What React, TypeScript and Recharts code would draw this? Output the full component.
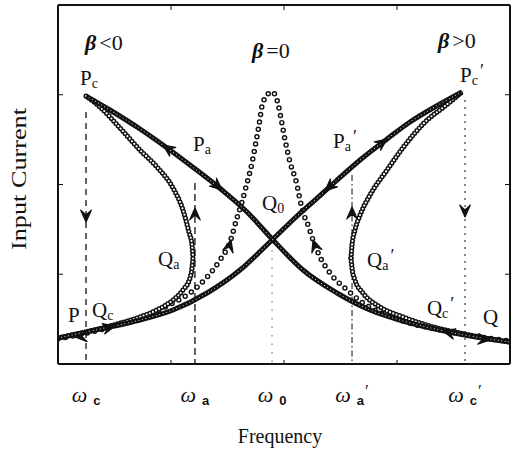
import { ComposedChart, Line, Scatter, XAxis, YAxis, ReferenceLine } from "recharts";

// axis ticks (frequency / current, arbitrary units)
const frequencyTicks = [1, 2, 3];
const currentTicks = [1, 2, 3];

// beta < 0 curve, three branches
const leftUpper = [
  { x: 0.248, y: 2.986 }, { x: 0.46, y: 2.83 }, { x: 0.726, y: 2.618 }, { x: 0.929, y: 2.44 },
  { x: 1.168, y: 2.217 }, { x: 1.451, y: 1.939 }, { x: 1.673, y: 1.694 }, { x: 1.894, y: 1.393 },
  { x: 2.168, y: 1.047 }, { x: 2.469, y: 0.791 }, { x: 2.761, y: 0.602 }, { x: 3.053, y: 0.479 },
  { x: 3.336, y: 0.39 }, { x: 3.646, y: 0.312 }, { x: 4.0, y: 0.245 },
];
const leftMiddle = [
  { x: 0.248, y: 2.986 }, { x: 0.372, y: 2.864 }, { x: 0.549, y: 2.63 }, { x: 0.726, y: 2.384 },
  { x: 0.876, y: 2.195 }, { x: 1.018, y: 1.961 }, { x: 1.106, y: 1.716 }, { x: 1.159, y: 1.471 },
  { x: 1.186, y: 1.326 }, { x: 1.195, y: 1.192 },
];
const leftLower = [
  { x: 0, y: 0.29 }, { x: 0.283, y: 0.368 }, { x: 0.522, y: 0.446 }, { x: 0.726, y: 0.524 },
  { x: 0.876, y: 0.602 }, { x: 1.018, y: 0.713 }, { x: 1.106, y: 0.825 }, { x: 1.168, y: 0.958 },
  { x: 1.186, y: 1.07 }, { x: 1.195, y: 1.192 },
];

// beta > 0 curve
const rightUpper = [
  { x: 0, y: 0.29 }, { x: 0.372, y: 0.39 }, { x: 0.726, y: 0.49 }, { x: 1.018, y: 0.602 },
  { x: 1.319, y: 0.791 }, { x: 1.611, y: 1.047 }, { x: 1.894, y: 1.382 }, { x: 2.097, y: 1.627 },
  { x: 2.274, y: 1.827 }, { x: 2.451, y: 2.028 }, { x: 2.673, y: 2.273 }, { x: 2.912, y: 2.507 },
  { x: 3.115, y: 2.696 }, { x: 3.381, y: 2.897 }, { x: 3.575, y: 3.031 },
];
const rightMiddle = [
  { x: 2.593, y: 1.181 }, { x: 2.602, y: 1.326 }, { x: 2.628, y: 1.493 }, { x: 2.673, y: 1.66 },
  { x: 2.761, y: 1.883 }, { x: 2.912, y: 2.162 }, { x: 3.071, y: 2.44 }, { x: 3.248, y: 2.696 },
  { x: 3.425, y: 2.875 }, { x: 3.575, y: 3.031 },
];
const rightLower = [
  { x: 2.593, y: 1.181 }, { x: 2.602, y: 1.07 }, { x: 2.628, y: 0.936 }, { x: 2.699, y: 0.791 },
  { x: 2.85, y: 0.635 }, { x: 3.053, y: 0.524 }, { x: 3.292, y: 0.423 }, { x: 3.558, y: 0.345 },
  { x: 3.779, y: 0.29 }, { x: 4.0, y: 0.245 },
];

// beta = 0 resonance
const linearCurve = [
  { x: 0, y: 0.279 }, { x: 0.372, y: 0.379 }, { x: 0.726, y: 0.513 }, { x: 1.018, y: 0.68 },
  { x: 1.168, y: 0.791 }, { x: 1.319, y: 0.969 }, { x: 1.434, y: 1.159 }, { x: 1.522, y: 1.359 },
  { x: 1.584, y: 1.627 }, { x: 1.628, y: 1.805 }, { x: 1.673, y: 2.017 }, { x: 1.717, y: 2.24 },
  { x: 1.752, y: 2.474 }, { x: 1.779, y: 2.663 }, { x: 1.814, y: 2.919 }, { x: 1.894, y: 3.031 },
  { x: 1.938, y: 2.942 }, { x: 1.973, y: 2.741 }, { x: 2.009, y: 2.496 }, { x: 2.053, y: 2.251 },
  { x: 2.115, y: 1.994 }, { x: 2.142, y: 1.827 }, { x: 2.177, y: 1.66 }, { x: 2.212, y: 1.549 },
  { x: 2.257, y: 1.382 }, { x: 2.319, y: 1.192 }, { x: 2.407, y: 1.014 }, { x: 2.558, y: 0.825 },
  { x: 2.699, y: 0.68 }, { x: 3.027, y: 0.49 }, { x: 3.381, y: 0.379 }, { x: 3.735, y: 0.301 },
  { x: 4.0, y: 0.256 },
];

// jump frequencies: omega_c, omega_a, omega_0, omega_a', omega_c'
const omegaX = [0.248, 1.212, 1.894, 2.602, 3.602];
const omegaTop = [2.808, 2.017, 1.27, 2.106, 2.942];
const omegaSub = ["c", "a", "0", "a", "c"];
const omegaPrime = [false, false, false, true, true];

// arrow heads: tip and a point it heads toward
const arrows = [
  { x: 0.929, y: 2.44, tx: 0.726, ty: 2.618 },
  { x: 1.451, y: 1.939, tx: 1.673, ty: 1.694 },
  { x: 2.912, y: 2.507, tx: 3.115, ty: 2.696 },
  { x: 2.363, y: 1.928, tx: 2.097, ty: 1.627 },
  { x: 1.531, y: 1.382, tx: 1.584, ty: 1.627 },
  { x: 2.257, y: 1.382, tx: 2.212, ty: 1.549 },
  { x: 0.504, y: 0.423, tx: 0.726, ty: 0.49 },
  { x: 0.15, y: 0.301, tx: 0, ty: 0.29 },
  { x: 3.407, y: 0.368, tx: 3.027, ty: 0.49 },
  { x: 3.823, y: 0.267, tx: 4.0, ty: 0.245 },
  { x: 0.248, y: 1.582, tx: 0.248, ty: 0 },
  { x: 1.212, y: 1.738, tx: 1.212, ty: 2.017 },
  { x: 2.602, y: 1.749, tx: 2.602, ty: 2.106 },
  { x: 3.602, y: 1.638, tx: 3.602, ty: 0 },
];

const betaNotes = [
  { x: 0.239, y: 3.499, rel: "<0" },
  { x: 1.717, y: 3.409, rel: "=0" },
  { x: 3.363, y: 3.521, rel: ">0" },
];

const pointNotes = [
  { x: 0.195, y: 3.109, main: "P", sub: "c", prime: false },
  { x: 1.195, y: 2.373, main: "P", sub: "a", prime: false },
  { x: 2.434, y: 2.407, main: "P", sub: "a", prime: true },
  { x: 3.558, y: 3.142, main: "P", sub: "c", prime: true },
  { x: 1.805, y: 1.716, main: "Q", sub: "0", prime: false },
  { x: 0.885, y: 1.092, main: "Q", sub: "a", prime: false },
  { x: 2.735, y: 1.081, main: "Q", sub: "a", prime: true },
  { x: 0.088, y: 0.468, main: "P", sub: "", prime: false },
  { x: 0.301, y: 0.524, main: "Q", sub: "c", prime: false },
  { x: 3.265, y: 0.546, main: "Q", sub: "c", prime: true },
  { x: 3.761, y: 0.446, main: "Q", sub: "", prime: false },
];

const W = 514;
const H = 452;
const PLOT_W = 452;
const PLOT_H = 359;
const SERIF = "'Liberation Serif', 'Times New Roman', serif";
const INK = "#111";

const jumpStyles = [
  { dash: "6 5", color: INK },
  { dash: "7 4", color: INK },
  { dash: "1.5 7", color: "#888" },
  { dash: "6 3 1.5 3", color: "#444" },
  { dash: "2 5", color: "#444" },
];

function ArrowHead(props: any) {
  const { cx, cy, payload } = props;
  const sx = (payload.tx - payload.x) * (PLOT_W / 4);
  const sy = -(payload.ty - payload.y) * (PLOT_H / 4);
  const ang = Math.atan2(sy, sx);
  const len = 13;
  const spread = 0.42;
  const b1x = cx + len * Math.cos(ang + Math.PI - spread);
  const b1y = cy + len * Math.sin(ang + Math.PI - spread);
  const b2x = cx + len * Math.cos(ang + Math.PI + spread);
  const b2y = cy + len * Math.sin(ang + Math.PI + spread);
  const nx = cx + len * 0.55 * Math.cos(ang + Math.PI);
  const ny = cy + len * 0.55 * Math.sin(ang + Math.PI);
  return (
    <path
      d={`M${cx},${cy} L${b1x},${b1y} L${nx},${ny} L${b2x},${b2y} Z`}
      fill={INK}
      stroke={INK}
      strokeWidth={1.2}
      strokeLinejoin="round"
    />
  );
}

function BetaNote(props: any) {
  const { cx, cy, payload } = props;
  return (
    <text x={cx} y={cy} fontFamily={SERIF} fontSize={22} fill={INK}>
      <tspan fontStyle="italic" fontWeight="bold">β</tspan>
      <tspan dx={3}>{payload.rel}</tspan>
    </text>
  );
}

function PointNote(props: any) {
  const { cx, cy, payload } = props;
  return (
    <text x={cx} y={cy} fontFamily={SERIF} fontSize={21} fill={INK}>
      <tspan>{payload.main}</tspan>
      {payload.sub && (
        <tspan fontSize={14} dy={3}>
          {payload.sub}
        </tspan>
      )}
      {payload.prime && (
        <tspan fontSize={18} dx={2} dy={-8}>
          ′
        </tspan>
      )}
    </text>
  );
}

function OmegaTick(props: any) {
  const { x, payload, index } = props;
  let i = omegaX.indexOf(payload.value);
  if (i < 0) i = index;
  return (
    <text x={x} y={402} textAnchor="middle" fill={INK}>
      <tspan fontFamily={SERIF} fontStyle="italic" fontSize={22}>ω</tspan>
      <tspan fontFamily="'Liberation Sans', Arial, sans-serif" fontWeight="bold" fontSize={13} dx={6} dy={3}>
        {omegaSub[i]}
      </tspan>
      {omegaPrime[i] && (
        <tspan fontFamily={SERIF} fontSize={17} dx={1} dy={-9}>
          ′
        </tspan>
      )}
    </text>
  );
}

function CurrentLabel() {
  const cx = 26;
  const cy = 179;
  return (
    <text
      x={cx}
      y={cy}
      transform={`rotate(-90, ${cx}, ${cy})`}
      textAnchor="middle"
      fontFamily={SERIF}
      fontSize={20}
      textLength={142}
      lengthAdjust="spacingAndGlyphs"
      fill={INK}
    >
      Input Current
    </text>
  );
}

function FrequencyLabel() {
  return (
    <text x={280} y={443} textAnchor="middle" fontFamily={SERIF} fontSize={20} fill={INK}>
      Frequency
    </text>
  );
}

// dotted "chain of circles" look: dark round dots + white centres
function ringLines(key: string, data: any[], outer: number, inner: number, gap: number) {
  return [
    <Line
      key={key + "-o"}
      data={data}
      dataKey="y"
      type="monotone"
      dot={false}
      activeDot={false}
      isAnimationActive={false}
      stroke={INK}
      strokeWidth={outer}
      strokeDasharray={`0 ${gap}`}
      strokeLinecap="round"
    />,
    <Line
      key={key + "-i"}
      data={data}
      dataKey="y"
      type="monotone"
      dot={false}
      activeDot={false}
      isAnimationActive={false}
      stroke="#fff"
      strokeWidth={inner}
      strokeDasharray={`0 ${gap}`}
      strokeLinecap="round"
    />,
  ];
}

function thickLine(key: string, data: any[]) {
  return [
    <Line
      key={key + "-o"}
      data={data}
      dataKey="y"
      type="monotone"
      dot={false}
      activeDot={false}
      isAnimationActive={false}
      stroke={INK}
      strokeWidth={5}
    />,
    <Line
      key={key + "-i"}
      data={data}
      dataKey="y"
      type="monotone"
      dot={false}
      activeDot={false}
      isAnimationActive={false}
      stroke="#fff"
      strokeWidth={1}
      strokeDasharray="0 3.6"
      strokeLinecap="round"
    />,
  ];
}

export default function App() {
  return (
    <div style={{ position: "absolute", left: 0, top: 0, background: "#fff" }}>
      <ComposedChart width={W} height={H} margin={{ top: 5, right: 4, bottom: 0, left: 58 }}>
        <XAxis
          type="number"
          dataKey="x"
          domain={[0, 4]}
          allowDataOverflow
          ticks={frequencyTicks}
          tickFormatter={() => ""}
          mirror
          tickSize={4}
          height={1}
          axisLine={{ stroke: INK, strokeWidth: 2 }}
          tickLine={{ stroke: INK }}
        />
        <XAxis
          xAxisId="omega"
          type="number"
          dataKey="x"
          domain={[0, 4]}
          allowDataOverflow
          ticks={omegaX}
          interval={0}
          axisLine={false}
          tickLine={false}
          tickSize={0}
          tickMargin={0}
          height={88}
          tick={(p: any) => <OmegaTick {...p} />}
          label={{ value: "Frequency", content: () => <FrequencyLabel /> }}
        />
        <XAxis
          xAxisId="top"
          orientation="top"
          type="number"
          dataKey="x"
          domain={[0, 4]}
          allowDataOverflow
          ticks={frequencyTicks}
          tickFormatter={() => ""}
          mirror
          tickSize={5}
          height={1}
          axisLine={{ stroke: INK, strokeWidth: 2 }}
          tickLine={{ stroke: INK }}
        />
        <YAxis
          type="number"
          domain={[0, 4]}
          allowDataOverflow
          ticks={currentTicks}
          tickFormatter={() => ""}
          mirror
          tickSize={5}
          width={1}
          axisLine={{ stroke: INK, strokeWidth: 2 }}
          tickLine={{ stroke: INK }}
          label={{ value: "Input Current", content: () => <CurrentLabel /> }}
        />
        <YAxis
          yAxisId="r"
          orientation="right"
          type="number"
          domain={[0, 4]}
          allowDataOverflow
          ticks={currentTicks}
          tickFormatter={() => ""}
          mirror
          tickSize={5}
          width={1}
          axisLine={{ stroke: INK, strokeWidth: 2 }}
          tickLine={{ stroke: INK }}
        />

        {omegaX.map((x, i) => (
          <ReferenceLine
            key={"jump" + i}
            segment={[
              { x, y: omegaTop[i] },
              { x, y: 0 },
            ]}
            stroke={jumpStyles[i].color}
            strokeWidth={1.3}
            strokeDasharray={jumpStyles[i].dash}
          />
        ))}

        {ringLines("lin", linearCurve, 5.5, 2.6, 7.5)}
        {ringLines("lm", leftMiddle, 5.2, 2.2, 3.4)}
        {ringLines("ll", leftLower, 5.2, 2.2, 3.4)}
        {ringLines("rm", rightMiddle, 5.2, 2.2, 3.4)}
        {ringLines("rl", rightLower, 5.2, 2.2, 3.4)}
        {thickLine("lu", leftUpper)}
        {thickLine("ru", rightUpper)}

        <Scatter data={arrows} dataKey="y" isAnimationActive={false} shape={(p: any) => <ArrowHead {...p} />} />
        <Scatter data={betaNotes} dataKey="y" isAnimationActive={false} shape={(p: any) => <BetaNote {...p} />} />
        <Scatter data={pointNotes} dataKey="y" isAnimationActive={false} shape={(p: any) => <PointNote {...p} />} />
      </ComposedChart>
    </div>
  );
}
